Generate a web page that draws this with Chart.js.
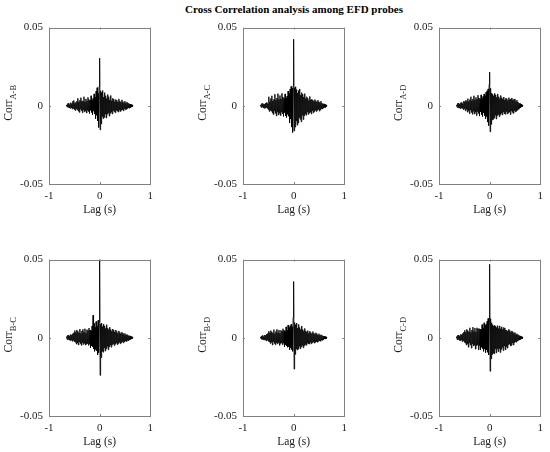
<!DOCTYPE html>
<html>
<head>
<meta charset="utf-8">
<title>Cross Correlation analysis among EFD probes</title>
<script src="https://cdn.jsdelivr.net/npm/chart.js@4.4.1/dist/chart.umd.min.js"></script>
<style>
    body { margin: 0; background: #fff; width: 550px; height: 452px; position: relative; overflow: hidden; font-family: "Liberation Serif", "Times New Roman", serif; }
    #fig-title { position: absolute; top: 3px; left: 0; width: 588px; text-align: center; font-weight: bold; font-size: 11px; color: #000; white-space: nowrap; }
    .cell { position: absolute; }
</style>
</head>
<body>
<div id="fig-title">Cross Correlation analysis among EFD probes</div>

<script>
// ===================================================================
// DATA  (lag grid in seconds, correlation values in units of 1e-3)
// ===================================================================
const LAG_START = -0.66;
const LAG_STEP = 0.01;
const xTicks = [-1, 0, 1];
const yTicks = [-0.05, 0, 0.05];

const corrAB = [
    0, 0.6, -0.8, 1.4, -1, 1.8, -1.2, 0.8, -1.6, 2, -1.2,
    1.4, -2, 2.8, -1.6, 3.4, -2.4, 1.6, -3, 2.2, -1.8, 3,
    -2.6, 4.8, -3.4, 2.4, -4.2, 3.6, -2, 5.2, -3, 2.8, -4.4,
    3.2, -2.6, 5.8, -3.8, 2.6, -3.2, 4.4, -4.6, 3, -2.8, 5.4,
    -3.6, 4, -5, 3.4, -2.8, 6.4, -4.2, 3.6, -5.6, 4.8, -3.4,
    7.6, -5, 5.4, -8.2, 9.4, -6, 11.6, -9.6, 8, -13.8, 12.4,
    30.5,
    -15.4, 9.6, -11.6, 8.6, -6.8, 9.8, -8.2, 5.6, -7.4, 8.4, -5.2,
    6.4, -7.8, 4.6, -5.4, 7.2, -4.4, 5.8, -6.6, 3.8, -4.8, 6.6,
    -4, 3.2, -5.2, 4.8, -3, 4.2, -3.8, 2.6, -4.4, 4, -2.8,
    3.6, -3.4, 2.4, -4, 4.4, -2.6, 3, -3.6, 2.2, -2.8, 3.8,
    -2.4, 2.6, -3.2, 2, -1.8, 3, -2.4, 1.6, -2.2, 2.4, -1.6,
    1.8, -1.2, 1.4, -1.6, 1, -1.2, 0.8, -0.8, 0.6, -0.4, 0
];
const corrAC = [
    0, 0.6, -1, 1.4, -0.8, 1.6, -1.2, 1, -1.6, 1.2, -1.4,
    1.8, -1, 2.2, -1.6, 1.4, -2.4, 5.8, -3.6, 2.6, -2.8, 4.6,
    -3.4, 6.4, -4.6, 3, -5.6, 4.2, -3.2, 7.4, -4.8, 3.6, -6.4,
    5, -3.8, 7.8, -5.8, 4, -4.6, 6.6, -6.2, 4.4, -3.8, 8,
    -5, 5.6, -6.8, 4.6, -4.2, 7.6, -6.4, 5, -7.4, 6.2, -5.4,
    9.4, -6.6, 7.8, -11, 10.6, -8.4, 12.4, -13.6, 11.2, -17, 12.8,
    42.6,
    -16, 11.6, -13.6, 12.2, -9.6, 10.4, -12.4, 8.2, -11, 9.8, -7.4,
    10.8, -8.6, 6.8, -10.2, 8.4, -6, 7.4, -8.8, 5.6, -6.4, 7.8,
    -5.2, 4.6, -6, 5.8, -3.8, 4.8, -5.4, 3.4, -4.6, 6, -4,
    3.8, -5.2, 4.2, -3, 3.6, -4.4, 2.8, -3.6, 4, -2.6, 3.2,
    -3.6, 2.4, -2.8, 3.6, -2.2, 2.6, -3.4, 2, -2.4, 3, -1.8,
    1.6, -2, 1.4, -1.4, 1.2, -1, 0.8, -1, 0.6, -0.4, 0
];
const corrAD = [
    0, 0.6, -1, 1.6, -1.2, 1.8, -1.4, 1, -1.8, 2, -1.4,
    2.2, -1.6, 1.4, -2.4, 3, -1.8, 2.6, -3.2, 3.6, -2.2, 2.8,
    -4, 4.6, -3, 2.8, -5, 4, -2.6, 5.8, -4.2, 3.2, -5.4,
    4.4, -3.4, 6.4, -5.2, 3.6, -4, 5.4, -6.2, 4.2, -3.6, 6.8,
    -4.8, 5, -6.6, 4.4, -3.8, 7, -5.6, 4.6, -6.8, 6, -4.4,
    7.6, -6.2, 6.4, -8.4, 8.8, -6.8, 9.6, -10.4, 10.8, -12.6, 13.6,
    21.6,
    -16.6, 11.2, -11.8, 8.2, -9, 7.4, -8.6, 6.4, -7.8, 8, -6,
    7, -8.4, 5.4, -6.2, 7.6, -5.4, 5.8, -7, 4.6, -5.8, 6.6,
    -4.6, 5.2, -5.8, 4.4, -3.8, 5.6, -5, 3.6, -5.4, 4.8, -3.6,
    4.6, -5.2, 3.4, -4.4, 5.2, -3.8, 4, -5.6, 4.4, -3.2, 5,
    -4.2, 3.6, -4.8, 4.2, -3, 4.4, -3.8, 2.8, -3.4, 3.6, -2.6,
    2.4, -2.2, 1.8, -1.6, 1.4, -1.2, 1, -0.8, 0.6, -0.4, 0
];
const corrBC = [
    0, 0.8, -1.2, 1.6, -1, 1.8, -1.4, 1.2, -1.8, 2.2, -1.4,
    1.8, -2.2, 2.6, -1.6, 3.2, -2.4, 4.6, -2.8, 3.4, -4, 5,
    -3.2, 4.2, -4.6, 3.2, -2.6, 5.6, -3.8, 2.8, -4.8, 4.4, -3,
    5.4, -4.2, 3.6, -3.4, 5.8, -4.6, 3, -4, 5.2, -3.6, 4.6,
    -4.8, 6.2, -3.8, 5, -6.4, 4.4, -5.2, 7.6, -5.8, 14.4, -7,
    9.2, -8.6, 6.8, -7.4, 10.4, -8.2, 7.6, -10.8, 11.2, -9.4, 10.6,
    50,
    -24, 8.6, -12.6, 9.4, -8.6, 7.2, -9.2, 8.8, -6.4, 7.6, -8.4,
    6, -7, 8.4, -5.4, 6.2, -7.6, 5.2, -5.8, 6.8, -4.6, 5.4,
    -6, 4.2, -4.4, 5.6, -3.8, 4.8, -5, 3.6, -4, 5, -3.2,
    4, -4.4, 2.8, -3.6, 4.4, -2.8, 3.4, -3.8, 2.6, -3, 3.6,
    -2.4, 3, -3.2, 2.2, -2.4, 2.8, -2, 1.8, -2.4, 2.2, -1.6,
    1.6, -1.8, 1.4, -1.2, 1.2, -1, 0.8, -0.8, 0.6, -0.4, 0
];
const corrBD = [
    0, 0.6, -0.8, 1.2, -1, 1.6, -1.2, 0.8, -1.4, 1.8, -1.2,
    1.6, -2, 2.4, -1.4, 2.8, -2.2, 4.2, -2.6, 3.2, -3.6, 4.6,
    -2.8, 3.8, -4.6, 3, -2.4, 5.2, -3.6, 2.6, -4.4, 4, -3,
    5.4, -3.8, 3.2, -3, 5, -4.8, 2.8, -3.6, 4.8, -3.2, 4.2,
    -4.4, 5.8, -3.4, 4.6, -5.8, 4, -4.6, 7, -5.2, 4.8, -6,
    8.2, -5.6, 6.4, -7.8, 7.6, -6.2, 8.6, -7.4, 7, -8.6, 13,
    36,
    -20, 9.8, -10.6, 8.4, -7, 9.4, -7.8, 6.2, -7.2, 8.6, -5.4,
    6.6, -7, 5.2, -5.8, 7.6, -4.8, 5.4, -6.4, 4.2, -5, 6,
    -4.2, 4.4, -4.8, 3.6, -3.4, 4.6, -3.8, 2.8, -4, 4.2, -2.8,
    3.4, -3.8, 2.6, -3, 4, -2.6, 3, -3.4, 2.2, -2.8, 3.2,
    -2.4, 2.6, -2.8, 1.8, -2.2, 2.6, -1.8, 1.6, -2.2, 2, -1.4,
    1.6, -1.6, 1.2, -1.2, 1, -0.8, 0.8, -0.8, 0.6, -0.4, 0
];
const corrCD = [
    0, 0.8, -1.2, 1.6, -1, 1.8, -1.6, 1.2, -1.8, 2.2, -1.4,
    2, -2.4, 2.8, -1.8, 3.6, -2.8, 4.8, -3.4, 3.6, -4.6, 5.4,
    -3.8, 4.6, -6, 3.8, -3.2, 6.4, -4.6, 3.4, -6.6, 5, -3.8,
    6.8, -5.2, 4, -4.6, 6.2, -7.2, 3.8, -5, 6.4, -4.4, 5.6,
    -7.6, 6, -5, 5.4, -7.8, 5.2, -6, 8.4, -6.8, 6, -8.6,
    9.6, -7.2, 8, -9.4, 8.6, -7.6, 10.6, -9.2, 12.4, -11, 10,
    47,
    -21.4, 12.2, -13.4, 9.6, -10.6, 8.4, -9.8, 7.6, -10.2, 8, -7,
    7.4, -9.6, 6.6, -7, 7.8, -8.8, 6, -6.8, 7.6, -9.4, 5.8,
    -7.4, 7, -6, 5.4, -8.2, 6.6, -5.2, 6.2, -7.6, 5, -5.6,
    4.8, -6.6, 4.2, -4.4, 5.4, -3.8, 4.6, -5.2, 3.4, -4.8, 4.4,
    -3.2, 3.8, -4.6, 2.8, -3, 3.4, -2.4, 2.2, -2.8, 2.6, -1.8,
    2, -1.6, 1.6, -1.4, 1.2, -1, 0.8, -0.8, 0.6, -0.4, 0
];

const panelPairs = ['A-B', 'A-C', 'A-D', 'B-C', 'B-D', 'C-D'];
const panelSeries = [corrAB, corrAC, corrAD, corrBC, corrBD, corrCD];

// ===================================================================
// LAYOUT
// ===================================================================
const FONT = '"Liberation Serif", "Times New Roman", serif';
const TEXT_COLOR = '#1a1a1a';
const BOX_COLOR = '#808080';
const PLOT_W = 106, PLOT_H = 159;
const PAD_L = 49, PAD_T = 10, PAD_R = 4, AXIS_H = 40;
const plotLefts = [49, 243, 439];
const plotTops = [25, 257];

// box round the plot area with small inward ticks (matlab style)
const boxPlugin = {
    id: 'boxTicks',
    afterDatasetsDraw(chart) {
        const { ctx, chartArea: a, scales } = chart;
        ctx.save();
        ctx.strokeStyle = BOX_COLOR;
        ctx.lineWidth = 1;
        ctx.strokeRect(Math.round(a.left) + 0.5, Math.round(a.top) + 0.5, Math.round(a.right - a.left), Math.round(a.bottom - a.top));
        ctx.beginPath();
        xTicks.forEach(v => {
            const px = Math.round(scales.x.getPixelForValue(v)) + 0.5;
            ctx.moveTo(px, a.bottom); ctx.lineTo(px, a.bottom - 2);
            ctx.moveTo(px, a.top); ctx.lineTo(px, a.top + 2);
        });
        yTicks.forEach(v => {
            const py = Math.round(scales.y.getPixelForValue(v)) + 0.5;
            ctx.moveTo(a.left, py); ctx.lineTo(a.left + 2, py);
            ctx.moveTo(a.right, py); ctx.lineTo(a.right - 2, py);
        });
        ctx.stroke();
        ctx.restore();
    }
};

// "Corr" with the probe pair as a subscript, rotated along the y axis
const yLabelPlugin = {
    id: 'yLabelSub',
    afterDraw(chart, args, opts) {
        const { ctx, chartArea: a } = chart;
        ctx.save();
        ctx.fillStyle = TEXT_COLOR;
        ctx.translate(12, (a.top + a.bottom) / 2 - 3);
        ctx.rotate(-Math.PI / 2);
        ctx.textBaseline = 'alphabetic';
        ctx.font = '11.5px ' + FONT;
        const wMain = ctx.measureText('Corr').width;
        ctx.font = '8.5px ' + FONT;
        const wSub = ctx.measureText(opts.sub).width;
        const x0 = -(wMain + wSub) / 2;
        ctx.font = '11.5px ' + FONT;
        ctx.fillText('Corr', x0, 0);
        ctx.font = '8.5px ' + FONT;
        ctx.fillText(opts.sub, x0 + wMain, 3.5);
        ctx.restore();
    }
};

function buildPoints(values) {
    return values.map((v, i) => ({ x: LAG_START + i * LAG_STEP, y: v / 1000 }));
}

function makePanel(idx) {
    const col = idx % 3, row = Math.floor(idx / 3);
    const canvas = document.createElement('canvas');
    canvas.className = 'cell';
    canvas.width = PAD_L + PLOT_W + PAD_R;
    canvas.height = PAD_T + PLOT_H + AXIS_H;
    canvas.style.left = (plotLefts[col] - PAD_L) + 'px';
    canvas.style.top = (plotTops[row] - PAD_T) + 'px';
    document.body.appendChild(canvas);

    new Chart(canvas, {
        type: 'line',
        data: {
            datasets: [{
                data: buildPoints(panelSeries[idx]),
                borderColor: '#000',
                borderWidth: 0.9,
                pointRadius: 0,
                tension: 0,
                fill: false
            }]
        },
        options: {
            responsive: false,
            animation: false,
            layout: { padding: { top: PAD_T, right: PAD_R, left: 0, bottom: 0 } },
            plugins: {
                legend: { display: false },
                tooltip: { enabled: false },
                yLabelSub: { sub: panelPairs[idx] }
            },
            scales: {
                x: {
                    type: 'linear',
                    min: -1, max: 1,
                    afterBuildTicks: s => { s.ticks = xTicks.map(v => ({ value: v })); },
                    afterFit: s => { s.height = AXIS_H; },
                    grid: { display: false, drawTicks: false },
                    border: { display: false },
                    ticks: { padding: 6, maxRotation: 0, color: TEXT_COLOR, font: { family: FONT, size: 11 } },
                    title: { display: true, text: 'Lag (s)', color: TEXT_COLOR, font: { family: FONT, size: 11.5 }, padding: { top: 0, bottom: 7 } }
                },
                y: {
                    type: 'linear',
                    min: -0.05, max: 0.05,
                    afterBuildTicks: s => { s.ticks = yTicks.map(v => ({ value: v })); },
                    afterFit: s => { s.width = PAD_L; },
                    grid: { display: false, drawTicks: false },
                    border: { display: false },
                    ticks: {
                        padding: 6, color: TEXT_COLOR, font: { family: FONT, size: 11 },
                        callback: v => (Math.abs(v) < 1e-12 ? '0' : String(v))
                    }
                }
            }
        },
        plugins: [boxPlugin, yLabelPlugin]
    });
}

panelSeries.forEach((_, i) => makePanel(i));
</script>
</body>
</html>
